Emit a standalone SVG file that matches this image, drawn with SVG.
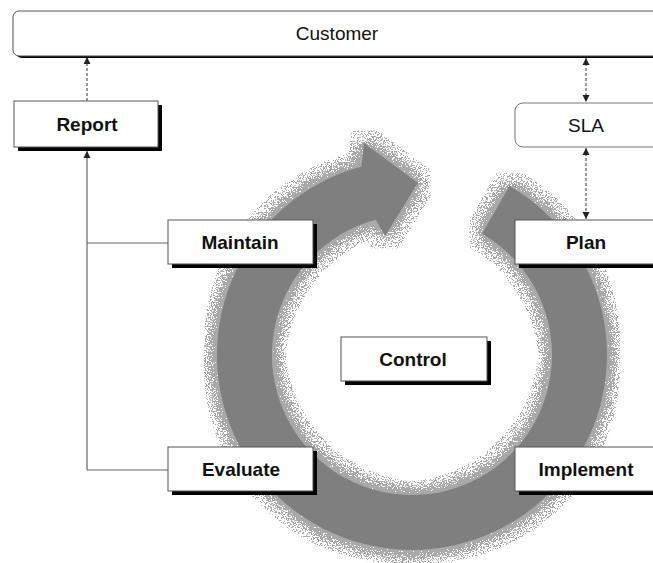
<svg xmlns="http://www.w3.org/2000/svg" width="653" height="563" viewBox="0 0 653 563">
<style>
.box{fill:#fff;stroke:#555;stroke-width:1}
.shadow{fill:#000}
.lbl{font-family:"Liberation Sans",Arial,sans-serif;font-size:19px;font-weight:bold;fill:#111;text-anchor:middle}
.lbln{font-family:"Liberation Sans",Arial,sans-serif;font-size:19px;fill:#111;text-anchor:middle}
.dash{fill:none;stroke:#333;stroke-width:1;stroke-dasharray:3,2}
.solid{fill:none;stroke:#666;stroke-width:1.2}
</style>
<defs>
<marker id="ah" markerWidth="8" markerHeight="8" refX="7" refY="4" orient="auto-start-reverse" markerUnits="userSpaceOnUse">
<path d="M0,0.5 L7,4 L0,7.5 Z" fill="#222"/>
</marker>
<filter id="halo" x="-15%" y="-15%" width="130%" height="130%" color-interpolation-filters="sRGB">
<feMorphology in="SourceAlpha" operator="dilate" radius="13" result="dil"/>
<feGaussianBlur in="SourceAlpha" stdDeviation="8" result="blur"/>
<feTurbulence type="fractalNoise" baseFrequency="0.8" numOctaves="2" seed="7" result="noise"/>
<feColorMatrix in="noise" type="matrix" values="0 0 0 0 0  0 0 0 0 0  0 0 0 0 0  1.6 0 0 0 0" result="na"/>
<feComposite in="blur" in2="na" operator="arithmetic" k1="0" k2="1.2" k3="1" k4="-0.42" result="mix"/>
<feComponentTransfer in="mix" result="th"><feFuncA type="discrete" tableValues="0 1"/></feComponentTransfer>
<feComposite in="th" in2="dil" operator="in" result="mask"/>
<feFlood flood-color="#a9a9a9" result="fl"/>
<feComposite in="fl" in2="mask" operator="in" result="dots"/>
<feMerge><feMergeNode in="dots"/><feMergeNode in="SourceGraphic"/></feMerge>
</filter>
</defs>
<rect width="653" height="563" fill="#fff"/>

<g id="cycle-arrow">
<path filter="url(#halo)" fill="#7f7f7f" d="M509.5,186.1 A195,195 0 1 1 361.5,166.6 L364,143 L418,183 L385,236 L375.8,219.8 A140,140 0 1 0 482,233.8 Z"/>
</g>

<g id="connectors">
<path class="dash" d="M87,101 V57" marker-end="url(#ah)"/>
<path class="dash" d="M586,58 V102" marker-start="url(#ah)" marker-end="url(#ah)"/>
<path class="dash" d="M586,148 V219" marker-start="url(#ah)" marker-end="url(#ah)"/>
<path class="solid" d="M87,470 V151" marker-end="url(#ah)"/>
<path class="solid" d="M87,243 H168"/>
<path class="solid" d="M87,470 H168"/>
</g>

<g id="customer">
<rect class="shadow" x="16" y="13" width="660" height="45" rx="6"/>
<rect class="box" x="13" y="11" width="660" height="45" rx="6"/>
<text class="lbln" x="337" y="40">Customer</text>
</g>

<g id="sla">
<rect x="515" y="103" width="160" height="44" rx="8" fill="#fff" stroke="#777" stroke-width="1"/>
<text class="lbln" x="586" y="132">SLA</text>
</g>

<g id="report">
<rect class="shadow" x="18" y="105" width="144" height="46"/>
<rect class="box" x="14" y="101" width="144" height="46"/>
<text class="lbl" x="87" y="131">Report</text>
</g>

<g id="maintain">
<rect class="shadow" x="172" y="224" width="145" height="44"/>
<rect class="box" x="168" y="220" width="145" height="44"/>
<text class="lbl" x="240" y="249">Maintain</text>
</g>

<g id="plan">
<rect class="shadow" x="519" y="224" width="160" height="44"/>
<rect class="box" x="515" y="220" width="160" height="44"/>
<text class="lbl" x="586" y="249">Plan</text>
</g>

<g id="control">
<rect class="shadow" x="345" y="341" width="146" height="44"/>
<rect class="box" x="341" y="337" width="146" height="44"/>
<text class="lbl" x="413" y="366">Control</text>
</g>

<g id="evaluate">
<rect class="shadow" x="172" y="451" width="145" height="44"/>
<rect class="box" x="168" y="447" width="145" height="44"/>
<text class="lbl" x="241" y="476">Evaluate</text>
</g>

<g id="implement">
<rect class="shadow" x="519" y="451" width="160" height="44"/>
<rect class="box" x="515" y="447" width="160" height="44"/>
<text class="lbl" x="586" y="476">Implement</text>
</g>
</svg>
